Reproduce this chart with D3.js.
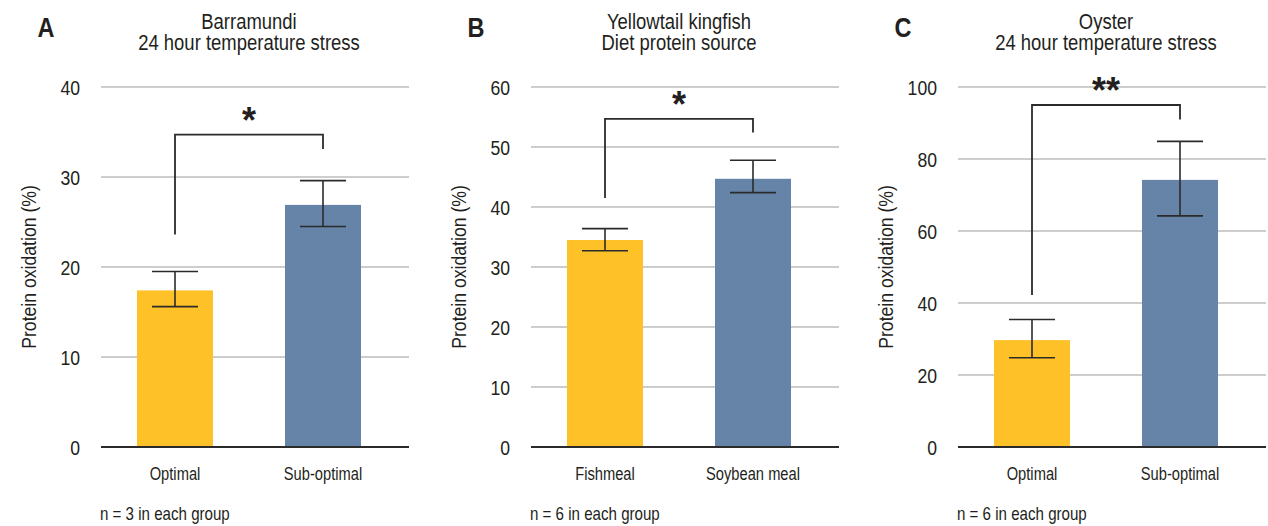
<!DOCTYPE html>
<html>
<head>
<meta charset="utf-8">
<script src="https://cdn.jsdelivr.net/npm/d3@7"></script>
<style>
  html, body { margin: 0; padding: 0; background: #fff; }
  svg { display: block; }
  text { font-family: "Liberation Sans", Arial, Helvetica, sans-serif; fill: #231f20; }
</style>
</head>
<body>
<svg id="chart" width="1268" height="526"></svg>
<script>
// ---- data ----
const panelLetters = ["A", "B", "C"];
const titleLine1 = ["Barramundi", "Yellowtail kingfish", "Oyster"];
const titleLine2 = ["24 hour temperature stress", "Diet protein source", "24 hour temperature stress"];
const categoriesA = ["Optimal", "Sub-optimal"];
const categoriesB = ["Fishmeal", "Soybean meal"];
const categoriesC = ["Optimal", "Sub-optimal"];
const valuesA = [17.4, 26.9];
const valuesB = [34.5, 44.7];
const valuesC = [29.7, 74.2];
const errHighA = [19.5, 29.6];
const errLowA = [15.6, 24.5];
const errHighB = [36.4, 47.8];
const errLowB = [32.7, 42.4];
const errHighC = [35.4, 84.9];
const errLowC = [24.8, 64.2];
const ticksA = [0, 10, 20, 30, 40];
const ticksB = [0, 10, 20, 30, 40, 50, 60];
const ticksC = [0, 20, 40, 60, 80, 100];
const bracketTop = [34.7, 54.7, 95.0];
const bracketLeftEnd = [23.6, 41.5, 42.2];
const bracketRightEnd = [33.1, 52.4, 91.0];
const sigLabels = ["*", "*", "**"];
const nLabels = ["n = 3 in each group", "n = 6 in each group", "n = 6 in each group"];
const yTitle = "Protein oxidation (%)";
const barColors = ["#fec228", "#6683a8"];

const panels = [
  { cats: categoriesA, vals: valuesA, hi: errHighA, lo: errLowA, ticks: ticksA },
  { cats: categoriesB, vals: valuesB, hi: errHighB, lo: errLowB, ticks: ticksB },
  { cats: categoriesC, vals: valuesC, hi: errHighC, lo: errLowC, ticks: ticksC }
];

// ---- layout ----
const lefts = [101, 531, 958];
const plotW = 308, plotTop = 87, plotBottom = 447;
const SX = 0.84; // horizontal condensing of the sans font
const svg = d3.select("#chart");

function label(g, x, y, str, size, anchor, weight) {
  return g.append("text")
    .attr("transform", `translate(${x},${y}) scale(${SX},1)`)
    .attr("text-anchor", anchor || "start")
    .attr("font-size", size)
    .attr("font-weight", weight || "normal")
    .text(str);
}

panels.forEach((p, i) => {
  const L = lefts[i];
  const g = svg.append("g");
  const y = d3.scaleLinear().domain([0, d3.max(p.ticks)]).range([plotBottom, plotTop]);
  const x = d3.scaleBand().domain(p.cats).range([L, L + 296])
    .paddingInner(1 - 76 / 148).paddingOuter((1 - 76 / 148) / 2);

  // grid
  g.selectAll("line.grid").data(p.ticks.filter(t => t > 0)).join("line")
    .attr("x1", L).attr("x2", L + plotW)
    .attr("y1", d => y(d)).attr("y2", d => y(d))
    .attr("stroke", "#bdbdbd").attr("stroke-width", 1.3);

  // y axis tick labels via d3 axis
  const yAxis = d3.axisLeft(y).tickValues(p.ticks).tickSize(0).tickPadding(0).tickFormat(d3.format("d"));
  const ya = g.append("g").attr("transform", `translate(${L - 21},0)`).call(yAxis);
  ya.select(".domain").remove();
  ya.selectAll("text").attr("font-size", 21).attr("fill", "#231f20")
    .attr("dy", "0.36em").attr("transform", `scale(${SX},1)`)
    .style("font-family", "'Liberation Sans', Arial, sans-serif");

  // bars
  g.selectAll("rect.bar").data(p.vals).join("rect")
    .attr("x", (d, j) => x(p.cats[j])).attr("width", x.bandwidth())
    .attr("y", d => y(d)).attr("height", d => y(0) - y(d))
    .attr("fill", (d, j) => barColors[j]);

  // baseline
  g.append("line").attr("x1", L).attr("x2", L + plotW)
    .attr("y1", y(0)).attr("y2", y(0)).attr("stroke", "#2b2b2b").attr("stroke-width", 2);

  // error bars
  const cx = j => x(p.cats[j]) + x.bandwidth() / 2;
  p.vals.forEach((v, j) => {
    const c = cx(j);
    g.append("line").attr("x1", c).attr("x2", c).attr("y1", y(p.hi[j])).attr("y2", y(p.lo[j]))
      .attr("stroke", "#2b2b2b").attr("stroke-width", 1.6);
    [p.hi[j], p.lo[j]].forEach(e => {
      g.append("line").attr("x1", c - 23).attr("x2", c + 23).attr("y1", y(e)).attr("y2", y(e))
        .attr("stroke", "#2b2b2b").attr("stroke-width", 1.6);
    });
  });

  // significance bracket
  const c0 = cx(0), c1 = cx(1);
  g.append("path")
    .attr("d", `M${c0},${y(bracketLeftEnd[i])}V${y(bracketTop[i])}H${c1}V${y(bracketRightEnd[i])}`)
    .attr("fill", "none").attr("stroke", "#2b2b2b").attr("stroke-width", 1.8);
  g.append("text").attr("x", (c0 + c1) / 2).attr("y", y(bracketTop[i]) - 24)
    .attr("text-anchor", "middle").attr("dy", "0.62em")
    .attr("font-size", 36).attr("font-weight", "bold")
    .text(sigLabels[i]);

  // category labels
  p.cats.forEach(c => label(g, x(c) + x.bandwidth() / 2, 480, c, 17.5, "middle"));

  // titles (two lines in one text)
  const tc = (c0 + c1) / 2;
  const t = g.append("text")
    .attr("transform", `translate(${tc},29) scale(${SX},1)`)
    .attr("text-anchor", "middle").attr("font-size", 22);
  t.append("tspan").attr("x", 0).attr("y", 0).text(titleLine1[i]);
  t.append("tspan").attr("x", 0).attr("y", 21.5).text(titleLine2[i]);

  // panel letter
  label(g, L - 55, 37, panelLetters[i], 28, "middle", "bold");

  // y axis title
  g.append("text")
    .attr("transform", `translate(${L - 72},${(plotTop + plotBottom) / 2}) rotate(-90) scale(${SX},1)`)
    .attr("text-anchor", "middle").attr("dy", "0.35em").attr("font-size", 21).text(yTitle);

  // n label
  label(g, L - 1, 520, nLabels[i], 18, "start");
});
</script>
</body>
</html>
